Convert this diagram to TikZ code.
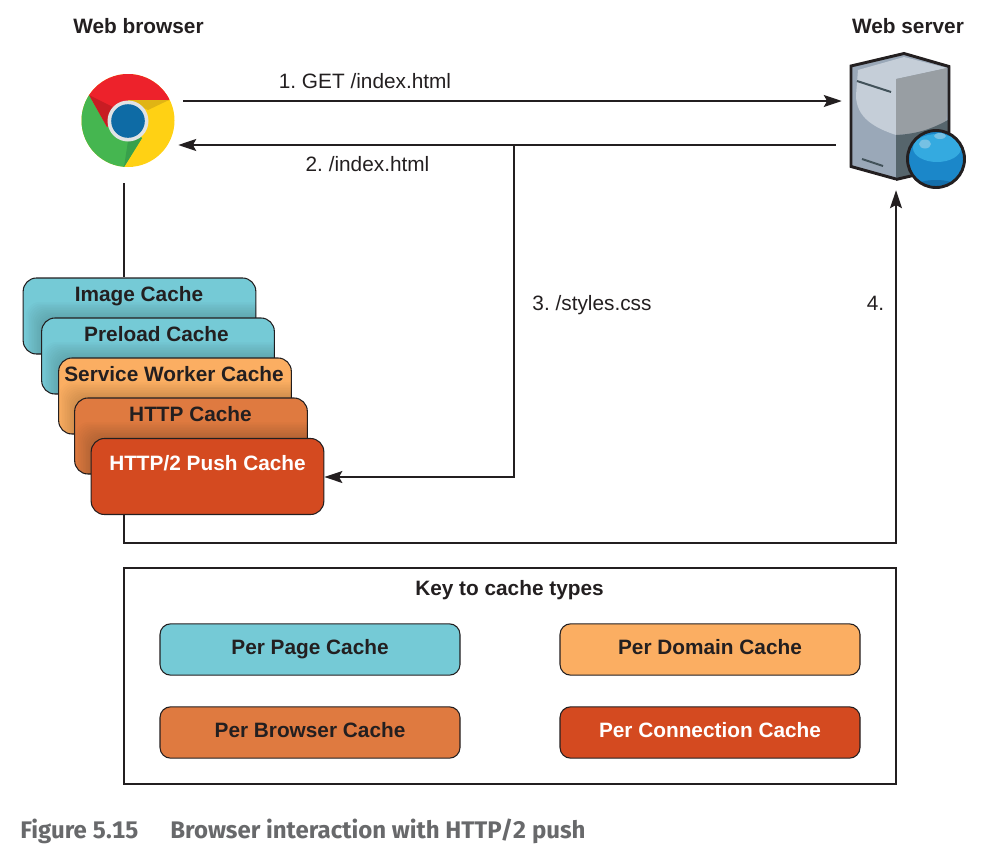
\documentclass[tikz,border=0pt]{standalone}
\usepackage{fontspec}
\setmainfont{Liberation Sans}
\newfontfamily\capfont[Numbers={Monospaced,Lining}]{Fira Sans}
\usetikzlibrary{arrows.meta}
\definecolor{ink}{HTML}{231F20}
\definecolor{teal}{HTML}{75CAD6}
\definecolor{peach}{HTML}{FBAE62}
\definecolor{ochre}{HTML}{DF7A40}
\definecolor{rust}{HTML}{D44A20}
\tikzset{
  x=0.75pt,y=-0.75pt,
  wire/.style={draw=ink,line width=1pt},
  arrowed/.style={wire,-{Stealth[length=13.5pt,width=9pt,inset=2.5pt]}},
  cachebox/.style={draw=ink,line width=0.8pt,rounded corners=10pt,inner sep=0pt,minimum width=174.5pt,minimum height=57pt},
  keybox/.style={draw=ink,line width=0.8pt,rounded corners=8pt,inner sep=0pt,minimum width=225pt,minimum height=38.5pt,font=\fontsize{15.6}{18}\selectfont\bfseries,text=ink,text height=11.2pt,text depth=3.3pt},
  boxlabel/.style={font=\fontsize{15.6}{18}\selectfont\bfseries,text=ink,inner sep=0pt,text height=11.2pt,text depth=3.3pt},
  plainlabel/.style={font=\fontsize{15.6}{18}\selectfont,text=ink,inner sep=0pt,text height=11.2pt,text depth=3.3pt},
  captext/.style={anchor=west,inner sep=0pt,font=\capfont\fontsize{18}{21}\selectfont\bfseries,text={rgb,255:red,104;green,105;blue,107}},
  ghost/.style={inner sep=0pt,minimum width=0pt}
}
\newcommand{\softshadow}[8]{% clip box x1,y1,x2,y2 ; caster x1,y1,x2,y2
  \begin{scope}
    \clip[rounded corners=10pt] (#1,#2) rectangle (#3,#4);
    \foreach \i in {1,...,10}{
      \fill[black,opacity=0.016,rounded corners=10pt] ({#5-\i*1.6},{#6-\i*1.6}) rectangle ({#7+\i*1.6},{#8+\i*1.6});
    }
  \end{scope}
}
\begin{document}
\frenchspacing
\begin{tikzpicture}
\useasboundingbox (0,0) rectangle (995,857);
% invisible anchors for the two icons
\node[ghost,minimum width=82.5pt,minimum height=88.5pt] (browser) at (128,124) {};
\node[ghost,minimum width=81pt,minimum height=102pt] (server) at (896,122) {};
\coordinate (laneA) at (0,101);
\coordinate (laneB) at (0,145);
\coordinate (laneC) at (0,477);
\coordinate (laneD) at (0,543);
\coordinate (trunk) at (514,145);
\coordinate (stem) at (124,300);
% Chrome icon
\begin{scope}
  \clip (128,120.5) circle [radius=46.5];
  \fill[color={rgb,255:red,255;green,209;blue,20}] (128,121) circle [radius=48];
  \fill[color={rgb,255:red,237;green,34;blue,43}] (128,121) -- (107,127) -- (89,95) -- (80,70) -- (128,60) -- (180,70) -- (169,100) -- (128,100) -- cycle;
  \fill[color={rgb,255:red,69;green,182;blue,80}] (107,127) -- (89,95) -- (70,100) -- (70,175) -- (124,175) -- (124,167) -- (142,138) -- (128,121) -- cycle;
  \fill[color={rgb,255:red,200;green,28;blue,35}] (89,95) -- (107,127) -- (113,107) -- cycle;
  \fill[color={rgb,255:red,224;green,180;blue,20}] (128,100) -- (169,100) -- (148,110) -- cycle;
  \fill[color={rgb,255:red,56;green,160;blue,75}] (124,167) -- (142,138) -- (128,141) -- cycle;
\end{scope}
\fill[color={rgb,255:red,225;green,227;blue,228}] (128,121) circle [radius=20.5];
\fill[color={rgb,255:red,14;green,107;blue,165}] (128,121) circle [radius=16.8];
% Server icon
\fill[color={rgb,255:red,154;green,168;blue,184}] (904,53) -- (950,67) -- (950,160) -- (896,180) -- (851,166) -- (851,66) -- cycle;
\fill[color={rgb,255:red,197;green,206;blue,216}] (858,70) -- (904,57) -- (947,68) -- (896,79) -- (896,135) .. controls (875,128) and (856,118) .. (856,95) -- cycle;
\fill[color={rgb,255:red,152;green,158;blue,163}] (896,79) -- (947,68) .. controls (948,90) and (948,110) .. (946,122) .. controls (930,130) and (915,134) .. (896,135) -- cycle;
\fill[color={rgb,255:red,86;green,101;blue,108}] (896,135) .. controls (915,134) and (930,130) .. (948,120) -- (948,160) -- (896,180) -- cycle;
\draw[ink,line width=2.2pt,line join=miter] (896,179) -- (851,166.5) -- (851,66) -- (904,53.5) -- (949,66.5) -- (949,140);
\draw[ink,line width=2.2pt] (896,179.5) -- (915,175);
\draw[color={rgb,255:red,66;green,82;blue,90},line width=1.5pt] (857,81) -- (891,92);
\draw[color={rgb,255:red,66;green,82;blue,90},line width=1.5pt] (862,159) -- (883,166);
\fill[color={rgb,255:red,27;green,135;blue,201}] (936,159) circle [radius=28];
\begin{scope}
  \clip (936,159) circle [radius=27];
  \fill[color={rgb,255:red,52;green,170;blue,224}] (937,148) ellipse [x radius=24, y radius=14];
  \fill[color={rgb,255:red,118;green,193;blue,228}] (925,144) ellipse [x radius=6, y radius=4.5];
  \fill[color={rgb,255:red,118;green,193;blue,228}] (940,136) ellipse [x radius=6, y radius=3];
  \fill[color={rgb,255:red,20;green,110;blue,170}] (936,186) ellipse [x radius=20, y radius=6];
\end{scope}
\draw[ink,line width=2.2pt] (936,159) circle [radius=28.5];
% Cache stack
\node[cachebox,fill=teal] (image) at (139.5,316) {};
\node[boxlabel] (imagelabel) at (139,296.5) {Image Cache};
\softshadow{23}{278}{256}{354}{42}{318}{274}{394}
\node[cachebox,fill=teal] (preload) at (158,356) {};
\node[boxlabel] (preloadlabel) at (156.5,336.5) {Preload Cache};
\softshadow{42}{318}{274}{394}{59}{358}{291}{434}
\node[cachebox,fill=peach] (worker) at (175,396) {};
\node[boxlabel] (workerlabel) at (174,376.5) {Service Worker Cache};
\softshadow{59}{358}{291}{434}{75}{398}{307}{474}
\node[cachebox,fill=ochre] (http) at (191,436) {};
\node[boxlabel] (httplabel) at (190.5,416.5) {HTTP Cache};
\softshadow{75}{398}{307}{474}{91}{438}{324}{515}
\node[cachebox,fill=rust] (push) at (207.5,476.5) {};
\node[boxlabel,text=white] (pushlabel) at (207.5,465.7) {HTTP/2 Push Cache};
% Connectors
\draw[wire] (browser.south -| stem) -- (image.north -| stem);
\draw[arrowed] (browser.east |- laneA) -- (server.west |- laneA);
\draw[arrowed] ([xshift=-6*0.75pt]server.west |- laneB) -- ([xshift=-5*0.75pt]browser.east |- laneB);
\draw[arrowed] (trunk) |- (push.east |- laneC);
\draw[arrowed] (push.south -| stem) |- (laneD -| server.south) -- (server.south);
% Labels
\node[boxlabel] (blabel) at (138.5,28) {Web browser};
\node[boxlabel] (slabel) at (908,28) {Web server};
\node[plainlabel] (l1) at (365,83) {1. GET /index.html};
\node[plainlabel] (l2) at (367.5,166) {2. /index.html};
\node[plainlabel] (l3) at (592,305) {3. /styles.css};
\node[plainlabel] (l4) at (875.5,305) {4.};
% Key
\node[draw=ink,line width=0.8pt,inner sep=0pt,minimum width=579pt,minimum height=162pt] (key) at (510,676) {};
\node[boxlabel] (keytitle) at (509.5,590.4) {Key to cache types};
\node[keybox,fill=teal] (kpage) at (310,649.5) {Per Page Cache};
\node[keybox,fill=peach] (kdomain) at (710,649.5) {Per Domain Cache};
\node[keybox,fill=ochre] (kbrowser) at (310,732.5) {Per Browser Cache};
\node[keybox,fill=rust,text=white] (kconn) at (710,732.5) {Per Connection Cache};
% Caption
\node[captext] (capnum) at (20,831) {Figure 5.15};
\node[captext] (captitle) at (170,831) {Browser interaction with HTTP/2 push};
\end{tikzpicture}
\end{document}
